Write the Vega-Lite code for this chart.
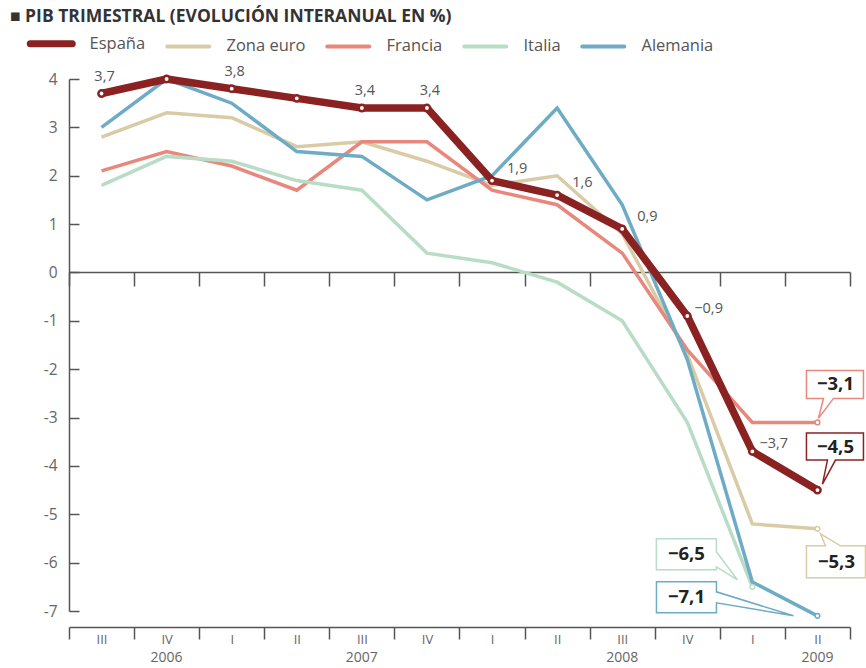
{
  "$schema": "https://vega.github.io/schema/vega-lite/v6.json",
  "width": 781,
  "height": 532,
  "autosize": {"type": "none"},
  "padding": {"left": 69, "top": 79, "right": 16, "bottom": 57},
  "config": {
    "view": {"stroke": null},
    "font": "Open Sans",
    "locale": {"number": {"decimal": ",", "thousands": ".", "grouping": [3], "currency": ["", " €"], "minus": "−"}}
  },
  "title": {
    "text": "■ PIB TRIMESTRAL (EVOLUCIÓN INTERANUAL EN %)",
    "anchor": "start",
    "frame": "group",
    "dx": -59,
    "offset": 10,
    "fontSize": 17.5,
    "fontWeight": "bold",
    "color": "#333333",
    "font": "Open Sans"
  },
  "data": {
    "values": [
      {"pais": "España", "trimestre": "2006-III", "valor": 3.7},
      {"pais": "España", "trimestre": "2006-IV", "valor": 4.0},
      {"pais": "España", "trimestre": "2007-I", "valor": 3.8},
      {"pais": "España", "trimestre": "2007-II", "valor": 3.6},
      {"pais": "España", "trimestre": "2007-III", "valor": 3.4},
      {"pais": "España", "trimestre": "2007-IV", "valor": 3.4},
      {"pais": "España", "trimestre": "2008-I", "valor": 1.9},
      {"pais": "España", "trimestre": "2008-II", "valor": 1.6},
      {"pais": "España", "trimestre": "2008-III", "valor": 0.9},
      {"pais": "España", "trimestre": "2008-IV", "valor": -0.9},
      {"pais": "España", "trimestre": "2009-I", "valor": -3.7},
      {"pais": "España", "trimestre": "2009-II", "valor": -4.5},
      {"pais": "Zona euro", "trimestre": "2006-III", "valor": 2.8},
      {"pais": "Zona euro", "trimestre": "2006-IV", "valor": 3.3},
      {"pais": "Zona euro", "trimestre": "2007-I", "valor": 3.2},
      {"pais": "Zona euro", "trimestre": "2007-II", "valor": 2.6},
      {"pais": "Zona euro", "trimestre": "2007-III", "valor": 2.7},
      {"pais": "Zona euro", "trimestre": "2007-IV", "valor": 2.3},
      {"pais": "Zona euro", "trimestre": "2008-I", "valor": 1.8},
      {"pais": "Zona euro", "trimestre": "2008-II", "valor": 2.0},
      {"pais": "Zona euro", "trimestre": "2008-III", "valor": 0.8},
      {"pais": "Zona euro", "trimestre": "2008-IV", "valor": -1.7},
      {"pais": "Zona euro", "trimestre": "2009-I", "valor": -5.2},
      {"pais": "Zona euro", "trimestre": "2009-II", "valor": -5.3},
      {"pais": "Francia", "trimestre": "2006-III", "valor": 2.1},
      {"pais": "Francia", "trimestre": "2006-IV", "valor": 2.5},
      {"pais": "Francia", "trimestre": "2007-I", "valor": 2.2},
      {"pais": "Francia", "trimestre": "2007-II", "valor": 1.7},
      {"pais": "Francia", "trimestre": "2007-III", "valor": 2.7},
      {"pais": "Francia", "trimestre": "2007-IV", "valor": 2.7},
      {"pais": "Francia", "trimestre": "2008-I", "valor": 1.7},
      {"pais": "Francia", "trimestre": "2008-II", "valor": 1.4},
      {"pais": "Francia", "trimestre": "2008-III", "valor": 0.4},
      {"pais": "Francia", "trimestre": "2008-IV", "valor": -1.6},
      {"pais": "Francia", "trimestre": "2009-I", "valor": -3.1},
      {"pais": "Francia", "trimestre": "2009-II", "valor": -3.1},
      {"pais": "Italia", "trimestre": "2006-III", "valor": 1.8},
      {"pais": "Italia", "trimestre": "2006-IV", "valor": 2.4},
      {"pais": "Italia", "trimestre": "2007-I", "valor": 2.3},
      {"pais": "Italia", "trimestre": "2007-II", "valor": 1.9},
      {"pais": "Italia", "trimestre": "2007-III", "valor": 1.7},
      {"pais": "Italia", "trimestre": "2007-IV", "valor": 0.4},
      {"pais": "Italia", "trimestre": "2008-I", "valor": 0.2},
      {"pais": "Italia", "trimestre": "2008-II", "valor": -0.2},
      {"pais": "Italia", "trimestre": "2008-III", "valor": -1.0},
      {"pais": "Italia", "trimestre": "2008-IV", "valor": -3.1},
      {"pais": "Italia", "trimestre": "2009-I", "valor": -6.5},
      {"pais": "Alemania", "trimestre": "2006-III", "valor": 3.0},
      {"pais": "Alemania", "trimestre": "2006-IV", "valor": 4.0},
      {"pais": "Alemania", "trimestre": "2007-I", "valor": 3.5},
      {"pais": "Alemania", "trimestre": "2007-II", "valor": 2.5},
      {"pais": "Alemania", "trimestre": "2007-III", "valor": 2.4},
      {"pais": "Alemania", "trimestre": "2007-IV", "valor": 1.5},
      {"pais": "Alemania", "trimestre": "2008-I", "valor": 2.0},
      {"pais": "Alemania", "trimestre": "2008-II", "valor": 3.4},
      {"pais": "Alemania", "trimestre": "2008-III", "valor": 1.4},
      {"pais": "Alemania", "trimestre": "2008-IV", "valor": -1.8},
      {"pais": "Alemania", "trimestre": "2009-I", "valor": -6.4},
      {"pais": "Alemania", "trimestre": "2009-II", "valor": -7.1}
    ]
  },
  "resolve": {"axis": {"x": "independent", "y": "independent"}},
  "layer": [
    {
      "transform": [{"filter": "datum.pais !== 'España'"}],
      "mark": {"type": "line", "strokeWidth": 3.5, "strokeJoin": "miter"},
      "encoding": {
        "x": {
          "field": "trimestre", "type": "ordinal",
          "scale": {"type": "band", "domain": ["2006-III","2006-IV","2007-I","2007-II","2007-III","2007-IV","2008-I","2008-II","2008-III","2008-IV","2009-I","2009-II"], "paddingInner": 0, "paddingOuter": 0},
          "axis": {"orient": "bottom", "offset": 16, "tickBand": "extent", "tickSize": 12, "tickColor": "#555555", "tickWidth": 1.5, "domainColor": "#555555", "domainWidth": 1.5, "labelExpr": "split(datum.value, '-')[1]", "labelAngle": 0, "labelPadding": -6, "labelFontSize": 13, "labelColor": "#666666", "labelOverlap": false, "title": null, "grid": false}
        },
        "y": {
          "field": "valor", "type": "quantitative",
          "scale": {"domain": [-7, 4], "nice": false, "zero": false},
          "axis": {"orient": "left", "values": [-7,-6,-5,-4,-3,-2,-1,0,1,2,3,4], "ticks": false, "domain": false, "labelPadding": 12, "labelFontSize": 15.5, "labelColor": "#666666", "grid": false, "title": null, "labelExpr": "datum.value < 0 ? '-' + abs(datum.value) : '' + datum.value"}
        },
        "color": {
          "field": "pais", "type": "nominal",
          "scale": {"domain": ["España", "Zona euro", "Francia", "Italia", "Alemania"], "range": ["#8b2222", "#d9cba5", "#e8877b", "#b9dcc6", "#6eabc5"]},
          "legend": {
            "orient": "none", "legendX": -41, "legendY": -44, "direction": "horizontal", "title": null,
            "symbolType": "stroke", "symbolSize": 1764, "symbolStrokeWidth": 4, "symbolOffset": 15,
            "labelFontSize": 16.5, "labelColor": "#555555", "labelOffset": 30, "columnPadding": 13,
            "encode": {"symbols": {"update": {"strokeWidth": {"signal": "datum.value === 'España' ? 7 : 4"}, "strokeCap": {"value": "round"}}}}
          }
        }
      }
    },
    {
      "transform": [{"filter": "datum.pais === 'España'"}],
      "mark": {"type": "line", "strokeWidth": 7.5, "strokeJoin": "round"},
      "encoding": {
        "x": {
          "field": "trimestre", "type": "ordinal",
          "axis": {"orient": "bottom", "offset": -339, "tickBand": "extent", "tickSize": 14, "tickColor": "#555555", "tickWidth": 1.5, "domainColor": "#555555", "domainWidth": 1.5, "labels": false, "title": null, "grid": false}
        },
        "y": {
          "field": "valor", "type": "quantitative",
          "axis": {"orient": "right", "offset": -781, "values": [-7,-6,-5,-4,-3,-2,-1,0,1,2,3,4], "tickSize": 10, "tickColor": "#555555", "tickWidth": 1.5, "domainColor": "#555555", "domainWidth": 1.5, "labels": false, "grid": false, "title": null}
        },
        "color": {"field": "pais", "type": "nominal"}
      }
    },
    {
      "transform": [{"filter": "datum.pais === 'España'"}],
      "mark": {"type": "point", "shape": "circle", "filled": true, "fill": "white", "stroke": "#8b2222", "strokeWidth": 2.5, "size": 40, "opacity": 1},
      "encoding": {
        "x": {
          "field": "trimestre", "type": "ordinal",
          "axis": {"orient": "bottom", "offset": 16, "bandPosition": 0, "ticks": false, "domain": false, "labelExpr": "datum.value == '2006-IV' ? '2006' : datum.value == '2007-III' ? '2007' : datum.value == '2008-III' ? '2008' : datum.value == '2009-II' ? '2009' : ''", "labelAngle": 0, "labelPadding": 23, "labelFontSize": 14, "labelColor": "#666666", "labelOverlap": false, "labelBound": false, "title": null, "grid": false}
        },
        "y": {"field": "valor", "type": "quantitative", "axis": null}
      }
    },
    {
      "transform": [{"filter": "datum.pais === 'España' && indexof(['2006-III','2007-I','2007-III','2007-IV'], datum.trimestre) >= 0"}],
      "mark": {"type": "text", "dy": -17, "dx": 3, "fontSize": 14.5, "color": "#555555"},
      "encoding": {
        "x": {"field": "trimestre", "type": "ordinal", "axis": null},
        "y": {"field": "valor", "type": "quantitative", "axis": null},
        "text": {"field": "valor", "type": "quantitative", "format": ".1f"}
      }
    },
    {
      "transform": [{"filter": "datum.pais === 'España' && indexof(['2008-I','2008-II','2008-III'], datum.trimestre) >= 0"}],
      "mark": {"type": "text", "align": "left", "dy": -12, "dx": 15, "fontSize": 14.5, "color": "#555555"},
      "encoding": {
        "x": {"field": "trimestre", "type": "ordinal", "axis": null},
        "y": {"field": "valor", "type": "quantitative", "axis": null},
        "text": {"field": "valor", "type": "quantitative", "format": ".1f"}
      }
    },
    {
      "transform": [{"filter": "datum.pais === 'España' && indexof(['2008-IV','2009-I'], datum.trimestre) >= 0"}],
      "mark": {"type": "text", "align": "left", "dy": -7, "dx": 7, "fontSize": 14.5, "color": "#555555"},
      "encoding": {
        "x": {"field": "trimestre", "type": "ordinal", "axis": null},
        "y": {"field": "valor", "type": "quantitative", "axis": null},
        "text": {"field": "valor", "type": "quantitative", "format": ".1f"}
      }
    },
    {
      "transform": [{"filter": "datum.pais === 'Francia' && datum.trimestre === '2009-II'"}],
      "encoding": {
        "x": {"field": "trimestre", "type": "ordinal", "axis": null},
        "y": {"field": "valor", "type": "quantitative", "axis": null}
      },
      "layer": [
        {"mark": {"type": "point", "shape": "M-11,-52H46V-24H16L1,-4L6,-24H-11Z", "size": 4, "filled": true, "fill": "white", "stroke": "#e8877b", "strokeWidth": 1.5, "opacity": 1}},
        {"mark": {"type": "point", "shape": "circle", "size": 22, "filled": true, "fill": "white", "stroke": "#e8877b", "strokeWidth": 1.5, "opacity": 1}},
        {"mark": {"type": "text", "dx": 18, "dy": -38, "fontSize": 18.5, "fontWeight": "bold", "color": "#222222"}, "encoding": {"text": {"field": "valor", "type": "quantitative", "format": ".1f"}}}
      ]
    },
    {
      "transform": [{"filter": "datum.pais === 'España' && datum.trimestre === '2009-II'"}],
      "encoding": {
        "x": {"field": "trimestre", "type": "ordinal", "axis": null},
        "y": {"field": "valor", "type": "quantitative", "axis": null}
      },
      "layer": [
        {"mark": {"type": "point", "shape": "M-11,-57H46V-30H18L5,-6L10,-30H-11Z", "size": 4, "filled": true, "fill": "white", "stroke": "#8b2222", "strokeWidth": 1.5, "opacity": 1}},
        {"mark": {"type": "text", "dx": 18, "dy": -43, "fontSize": 18.5, "fontWeight": "bold", "color": "#222222"}, "encoding": {"text": {"field": "valor", "type": "quantitative", "format": ".1f"}}}
      ]
    },
    {
      "transform": [{"filter": "datum.pais === 'Zona euro' && datum.trimestre === '2009-II'"}],
      "encoding": {
        "x": {"field": "trimestre", "type": "ordinal", "axis": null},
        "y": {"field": "valor", "type": "quantitative", "axis": null}
      },
      "layer": [
        {"mark": {"type": "point", "shape": "M-11,17H8L3,5L23,17H48V49H-11Z", "size": 4, "filled": true, "fill": "white", "stroke": "#d9cba5", "strokeWidth": 1.5, "opacity": 1}},
        {"mark": {"type": "point", "shape": "circle", "size": 22, "filled": true, "fill": "white", "stroke": "#d9cba5", "strokeWidth": 1.5, "opacity": 1}},
        {"mark": {"type": "text", "dx": 19, "dy": 33, "fontSize": 18.5, "fontWeight": "bold", "color": "#222222"}, "encoding": {"text": {"field": "valor", "type": "quantitative", "format": ".1f"}}}
      ]
    },
    {
      "transform": [{"filter": "datum.pais === 'Italia' && datum.trimestre === '2009-I'"}],
      "encoding": {
        "x": {"field": "trimestre", "type": "ordinal", "axis": null},
        "y": {"field": "valor", "type": "quantitative", "axis": null}
      },
      "layer": [
        {"mark": {"type": "point", "shape": "M-96,-48H-36V-35L-15,-7L-36,-20V-17H-96Z", "size": 4, "filled": true, "fill": "white", "stroke": "#b9dcc6", "strokeWidth": 1.5, "opacity": 1}},
        {"mark": {"type": "point", "shape": "circle", "size": 22, "filled": true, "fill": "white", "stroke": "#b9dcc6", "strokeWidth": 1.5, "opacity": 1}},
        {"mark": {"type": "text", "dx": -66, "dy": -33, "fontSize": 18.5, "fontWeight": "bold", "color": "#222222"}, "encoding": {"text": {"field": "valor", "type": "quantitative", "format": ".1f"}}}
      ]
    },
    {
      "transform": [{"filter": "datum.pais === 'Alemania' && datum.trimestre === '2009-II'"}],
      "encoding": {
        "x": {"field": "trimestre", "type": "ordinal", "axis": null},
        "y": {"field": "valor", "type": "quantitative", "axis": null}
      },
      "layer": [
        {"mark": {"type": "point", "shape": "M-161,-34H-101V-24L-24,0L-101,-13V-3H-161Z", "size": 4, "filled": true, "fill": "white", "stroke": "#6eabc5", "strokeWidth": 1.5, "opacity": 1}},
        {"mark": {"type": "point", "shape": "circle", "size": 22, "filled": true, "fill": "white", "stroke": "#6eabc5", "strokeWidth": 1.5, "opacity": 1}},
        {"mark": {"type": "text", "dx": -131, "dy": -19, "fontSize": 18.5, "fontWeight": "bold", "color": "#222222"}, "encoding": {"text": {"field": "valor", "type": "quantitative", "format": ".1f"}}}
      ]
    }
  ]
}
